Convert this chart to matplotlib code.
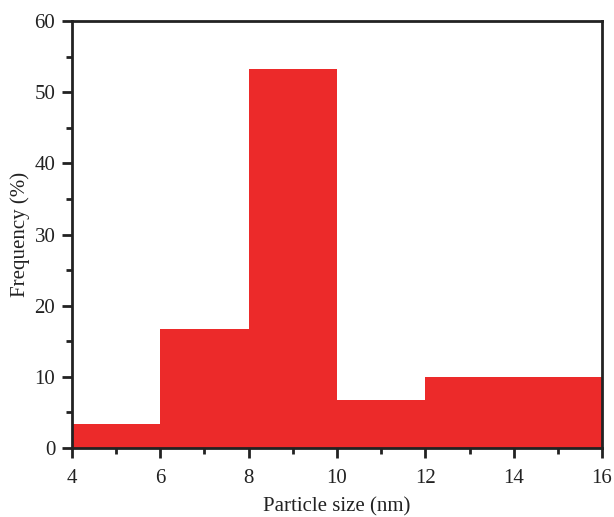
import matplotlib.pyplot as plt
from matplotlib.ticker import MultipleLocator

plt.rcParams['font.family'] = ['Liberation Serif', 'DejaVu Serif']

# histogram bins (nm) and frequency (%)
bin_left = [4, 6, 8, 10, 12, 14]
bin_width = 2
frequency = [3.4, 16.7, 53.3, 6.7, 10.0, 10.0]

fig = plt.figure(figsize=(6.14, 5.17), dpi=100)
ax = fig.add_axes([72 / 614, 69 / 517, 530 / 614, 427 / 517])

ax.bar(bin_left, frequency, width=bin_width, align='edge',
       color='#EC2A2A', edgecolor='none', linewidth=0)

ax.set_xlim(4, 16)
ax.set_ylim(0, 60)
ax.xaxis.set_major_locator(MultipleLocator(2))
ax.xaxis.set_minor_locator(MultipleLocator(1))
ax.yaxis.set_major_locator(MultipleLocator(10))
ax.yaxis.set_minor_locator(MultipleLocator(5))
ax.tick_params(which='major', direction='out', length=7, width=2,
               labelsize=15, colors='#222222')
ax.tick_params(axis='x', which='major', pad=8)
ax.tick_params(axis='y', which='major', pad=5)
ax.tick_params(which='minor', direction='out', length=4, width=2,
               colors='#222222')
for s in ax.spines.values():
    s.set_linewidth(2)
    s.set_color('#222222')

ax.set_xlabel('Particle size (nm)', fontsize=15, color='#222222', labelpad=7)
ax.set_ylabel('Frequency (%)', fontsize=15, color='#222222', labelpad=3)

plt.savefig('out.png', dpi=100)
